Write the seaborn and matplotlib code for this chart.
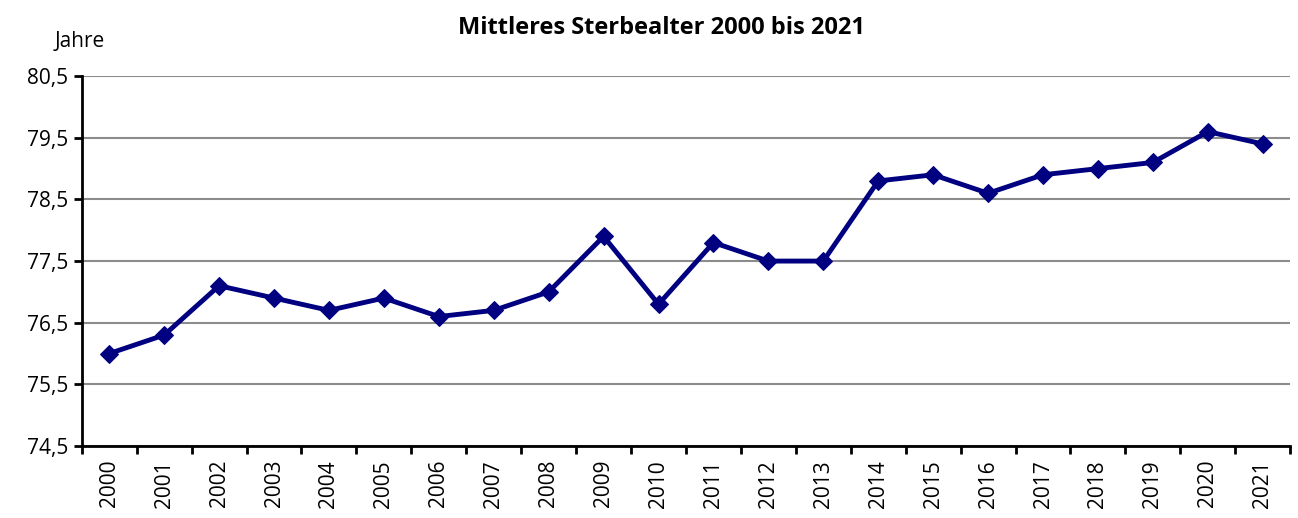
import matplotlib
matplotlib.use("Agg")
import matplotlib.pyplot as plt
import seaborn as sns
import pandas as pd
import numpy as np

years = [str(y) for y in range(2000, 2022)]
alter = [76.0, 76.3, 77.1, 76.9, 76.7, 76.9, 76.6, 76.7, 77.0, 77.9, 76.8,
         77.8, 77.5, 77.5, 78.8, 78.9, 78.6, 78.9, 79.0, 79.1, 79.6, 79.4]
y_ticks = [74.5, 75.5, 76.5, 77.5, 78.5, 79.5, 80.5]

sns.set_theme(style="ticks")
plt.rcParams['font.family'] = ['Open Sans', 'DejaVu Sans']
plt.rcParams['text.color'] = 'black'
plt.rcParams['xtick.color'] = 'black'
plt.rcParams['ytick.color'] = 'black'

df = pd.DataFrame({"Jahr": years, "Alter": alter})

fig = plt.figure(figsize=(12.98, 5.18), dpi=100)
ax = fig.add_axes([0.063, 0.139, 0.931, 0.714])

ax.set_ylim(74.5, 80.5)
ax.set_yticks(y_ticks)
ax.set_yticklabels([f"{v:.1f}".replace(".", ",") for v in y_ticks], fontsize=15)
ax.yaxis.grid(True, color="#8c8c8c", linewidth=1.5)
ax.set_axisbelow(True)

sns.lineplot(data=df, x="Jahr", y="Alter", ax=ax, color="#000080",
             linewidth=3.5, marker="D", markersize=9, markeredgecolor="#000080")

ax.set_xlim(-0.5, len(years) - 0.5)
ax.set_xticks(range(len(years)))
ax.set_xticklabels(years, rotation=90, fontsize=15)
ax.set_xticks(np.arange(-0.5, len(years), 1.0), minor=True)
ax.tick_params(axis="x", which="major", length=0, pad=10, bottom=True)
ax.tick_params(axis="x", which="minor", length=6, width=2, color="black",
               direction="out", bottom=True)
ax.tick_params(axis="y", which="major", length=6, width=2, color="black",
               direction="out", left=True)

for s in ["top", "right"]:
    ax.spines[s].set_visible(False)
for s in ["left", "bottom"]:
    ax.spines[s].set_color("black")
    ax.spines[s].set_linewidth(2)

ax.set_xlabel("")
ax.set_ylabel("")
fig.text(0.042, 0.92, "Jahre", fontsize=15, ha="left", va="center")
fig.text(0.510, 0.945, "Mittleres Sterbealter 2000 bis 2021", fontsize=17,
         fontweight="bold", ha="center", va="center")

fig.savefig("out.png", dpi=100)
